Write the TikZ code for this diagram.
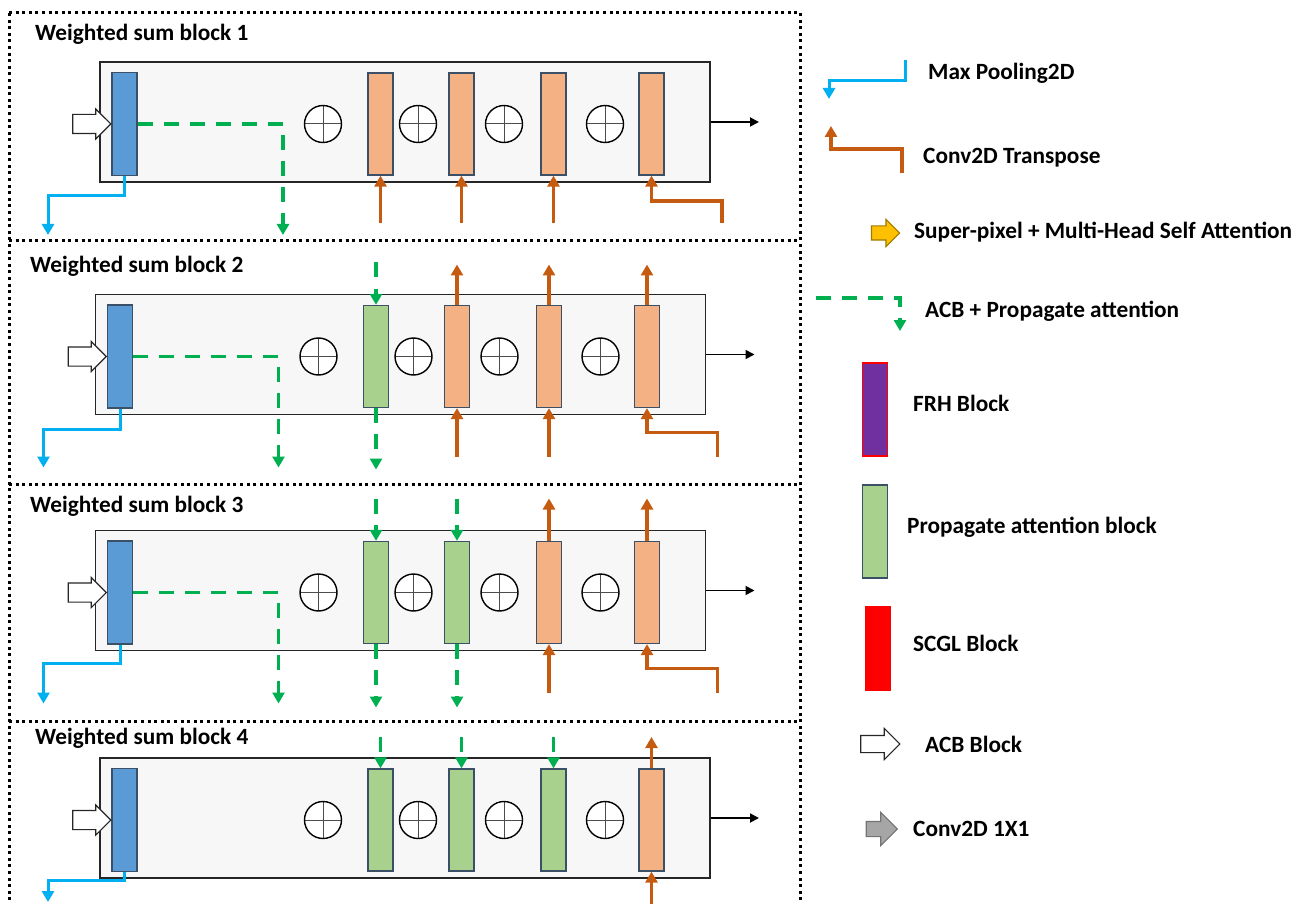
\documentclass[tikz,border=0pt]{standalone}
\usepackage{fontspec}
\setmainfont{Carlito}
\usetikzlibrary{arrows.meta,shapes.arrows}

% colours of the blocks and the connectors
\definecolor{boxgrey}{HTML}{F7F7F7}
\definecolor{encblue}{HTML}{5B9BD5}
\definecolor{slateedge}{HTML}{3B4F66}
\definecolor{upfill}{HTML}{F4B183}
\definecolor{propfill}{HTML}{A9D18E}
\definecolor{tconvorange}{HTML}{C55A11}
\definecolor{poolblue}{HTML}{00B0F0}
\definecolor{propgreen}{HTML}{00B050}
\definecolor{spyellow}{HTML}{FFC000}
\definecolor{spedge}{HTML}{9C7A00}
\definecolor{frhpurple}{HTML}{7030A0}
\definecolor{convgrey}{HTML}{A6A6A6}

\tikzset{
  sepline/.style={line width=3pt, dash pattern=on 3pt off 3.6pt},
  wsbox/.style={draw=black!85, fill=boxgrey, line width=1.4pt,
    minimum width=610pt, minimum height=120pt, inner sep=0pt},
  bar/.style={draw=slateedge, line width=1.3pt, minimum width=25pt,
    minimum height=102pt, inner sep=0pt},
  enc/.style={bar, fill=encblue, minimum height=103pt},
  upblk/.style={bar, fill=upfill},
  propblk/.style={bar, fill=propfill},
  sumnode/.style={circle, draw=black, line width=1.4pt, fill=white,
    minimum size=37pt, inner sep=0pt,
    path picture={\draw[black!70, line width=1pt]
      (path picture bounding box.north) -- (path picture bounding box.south)
      (path picture bounding box.west) -- (path picture bounding box.east);}},
  % the shaft is set by inner ysep, the head by head extend
  blockarrow/.style={single arrow, draw, line width=1.1pt, inner xsep=0pt},
  acb/.style={blockarrow, fill=white, draw=black!85, minimum height=38pt,
    inner ysep=9pt, single arrow head extend=5.5pt},
  wstitle/.style={font=\fontsize{23.3}{27}\selectfont\bfseries, anchor=west, inner sep=0pt},
  legend/.style={wstitle},
  poolline/.style={draw=poolblue, line width=3pt, -{Triangle[length=11pt,width=12pt]}},
  tconvline/.style={draw=tconvorange, line width=3.6pt, -{Triangle[length=11pt,width=12pt]}},
  propline/.style={draw=propgreen, line width=3.6pt, dash pattern=on 15pt off 11pt,
    -{Triangle[length=11pt,width=12pt]}},
  outarrow/.style={draw=black, line width=1.8pt, -{Triangle[length=9pt,width=9pt]}},
}

% one weighted sum block: box, encoder bar, four slots and the sums
\newcommand{\wsblock}[4]{%
  \node[wsbox] (box) at (0,0) {};
  \node[enc] (enc) at (-280.5,2) {};
  \node[acb] (acb) at (-318,2) {};
  \node[#1] (s1) at (-24.5,2) {};
  \node[#2] (s2) at (56.5,2) {};
  \node[#3] (s3) at (148.5,2) {};
  \node[#4] (s4) at (246.5,2) {};
  \foreach \cx [count=\i] in {-82,13,99,200}
    \node[sumnode] (c\i) at (\cx,2) {};
  \coordinate (out) at (354,0);
  \draw[outarrow] (box.east) -- (out);
}

\begin{document}
\begin{tikzpicture}[x=1pt, y=-1pt]
  \useasboundingbox (0,0) rectangle (1307,904);

  % dotted frame round the four blocks
  \draw[sepline] (9,13) -- (800,13);
  \draw[sepline] (9,13) -- (9,904);
  \draw[sepline] (800,13) -- (800,904);
  \foreach \y in {241,484,721}
    \draw[sepline] (9,\y) -- (800,\y);

  % block titles
  \node[wstitle] (t1) at (35,34) {Weighted sum block 1};
  \node[wstitle] (t2) at (30,266) {Weighted sum block 2};
  \node[wstitle] (t3) at (30,506) {Weighted sum block 3};
  \node[wstitle] (t4) at (35,738) {Weighted sum block 4};

  % block 1
  \begin{scope}[shift={(405,122)}, name prefix=b1-]
    \wsblock{upblk}{upblk}{upblk}{upblk}
    \coordinate (pk) at (-357,74);
    \coordinate (pe) at (-357,113);
    \draw[poolline] (enc.south) |- (pk) -- (pe);
    \coordinate (gk) at (-122,2);
    \coordinate (ge) at (-122,113);
    \draw[propline] (enc.east) -- (gk) -- (ge);
    \foreach \i in {1,2,3}
      \draw[tconvline] (s\i |- 0,101) -- (s\i.south);
    \coordinate (t4) at (317,101);
    \draw[tconvline] (t4) -- ++(0,-22) -| (s4.south);
  \end{scope}

  % block 2
  \begin{scope}[shift={(400.5,354.5)}, name prefix=b2-]
    \wsblock{propblk}{upblk}{upblk}{upblk}
    \coordinate (pk) at (-357,75);
    \coordinate (pe) at (-357,113);
    \draw[poolline] (enc.south) |- (pk) -- (pe);
    \coordinate (gk) at (-122,2);
    \coordinate (ge) at (-122,113);
    \draw[propline] (enc.east) -- (gk) -- (ge);
    \draw[propline] (s1 |- 0,-92) -- (s1.north);
    \draw[propline] (s1.south) -- (s1 |- 0,115);
    \foreach \i in {2,3,4}
      \draw[tconvline] (s\i.north) -- (s\i |- 0,-90);
    \foreach \i in {2,3}
      \draw[tconvline] (s\i |- 0,102) -- (s\i.south);
    \coordinate (t4) at (317,102);
    \draw[tconvline] (t4) -- ++(0,-24) -| (s4.south);
  \end{scope}

  % block 3
  \begin{scope}[shift={(400.5,590.5)}, name prefix=b3-]
    \wsblock{propblk}{propblk}{upblk}{upblk}
    \coordinate (pk) at (-357,73);
    \coordinate (pe) at (-357,113);
    \draw[poolline] (enc.south) |- (pk) -- (pe);
    \coordinate (gk) at (-122,2);
    \coordinate (ge) at (-122,113);
    \draw[propline] (enc.east) -- (gk) -- (ge);
    \foreach \i in {1,2} {
      \draw[propline] (s\i |- 0,-92) -- (s\i.north);
      \draw[propline] (s\i.south) -- (s\i |- 0,117);
    }
    \foreach \i in {3,4}
      \draw[tconvline] (s\i.north) -- (s\i |- 0,-92);
    \draw[tconvline] (s3 |- 0,102) -- (s3.south);
    \coordinate (t4) at (317,102);
    \draw[tconvline] (t4) -- ++(0,-24) -| (s4.south);
  \end{scope}

  % block 4
  \begin{scope}[shift={(405,818)}, name prefix=b4-]
    \wsblock{propblk}{propblk}{propblk}{upblk}
    \coordinate (pk) at (-357,62);
    \coordinate (pe) at (-357,84);
    \draw[poolline] (enc.south) |- (pk) -- (pe);
    \foreach \i in {1,2,3}
      \draw[propline] (s\i |- 0,-81) -- (s\i.north);
    \draw[tconvline] (s4.north) -- (s4 |- 0,-81);
    \draw[tconvline] (s4 |- 0,86) -- (s4.south);
  \end{scope}

  % legend
  \coordinate (mpA) at (905,60);
  \coordinate (mpK) at (829,81);
  \coordinate (mpB) at (829,99);
  \draw[poolline] (mpA) |- (mpK) -- (mpB);
  \node[legend] (mptxt) at (928,73) {Max Pooling2D};

  \coordinate (ctA) at (902,173);
  \coordinate (ctK) at (831,149);
  \coordinate (ctB) at (831,126);
  \draw[tconvline] (ctA) |- (ctK) -- (ctB);
  \node[legend] (cttxt) at (923,158) {Conv2D Transpose};

  \node[blockarrow, fill=spyellow, draw=spedge, minimum height=28pt,
    inner ysep=6.5pt, single arrow head extend=6.5pt] (sparrow) at (882,233) {};
  \node[legend] (sptxt) at (914,232) {Super-pixel + Multi-Head Self Attention};

  \coordinate (paA) at (816,298);
  \coordinate (paB) at (900,331);
  \draw[propline] (paA) -| (paB);
  \node[legend] (patxt) at (925,311) {ACB + Propagate attention};

  \node[bar, fill=frhpurple, draw=red, minimum height=93pt] (frh) at (875,409.5) {};
  \node[legend] (frhtxt) at (913,403) {FRH Block};

  \node[propblk, minimum height=93pt] (pab) at (875,531.5) {};
  \node[legend] (pabtxt) at (907,527) {Propagate attention block};

  \node[bar, fill=red, draw=red, minimum height=83pt] (scgl) at (878,648.5) {};
  \node[legend] (scgltxt) at (913,643) {SCGL Block};

  \node[acb, minimum height=39pt, inner ysep=8pt,
    single arrow head extend=7pt] (acbleg) at (876,744) {};
  \node[legend] (acbtxt) at (925,744) {ACB Block};

  \node[blockarrow, fill=convgrey, draw=black!55, minimum height=31pt,
    inner ysep=7pt, single arrow head extend=9pt] (convleg) at (878,829) {};
  \node[legend] (convtxt) at (913,829) {Conv2D 1X1};
\end{tikzpicture}
\end{document}
